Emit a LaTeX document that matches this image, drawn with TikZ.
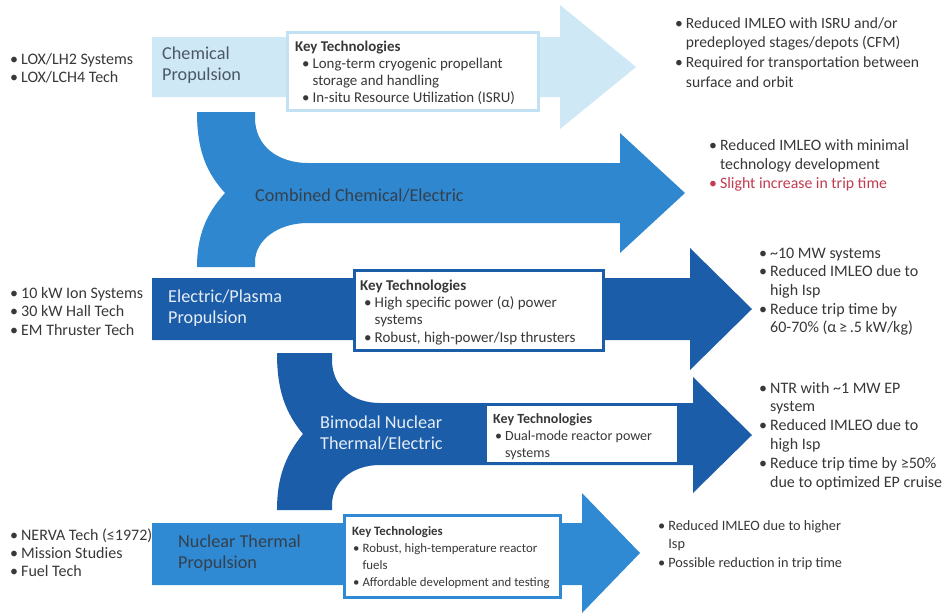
\documentclass[tikz,border=0pt]{standalone}
\usepackage{fontspec}
\setmainfont{Carlito}
\definecolor{chemc}{HTML}{CFE8F6}
\definecolor{chemb}{HTML}{C2E1F3}
\definecolor{combc}{HTML}{2F87D0}
\definecolor{darkc}{HTML}{1B5DA9}
\definecolor{nucc}{HTML}{3089D3}
\definecolor{txt}{HTML}{383838}
\definecolor{redt}{HTML}{C23B50}
\definecolor{chemlbl}{HTML}{4B5866}
\definecolor{darklbl}{HTML}{34404C}
\definecolor{lightlbl}{HTML}{E6EDF5}
\newcommand{\bu}{\textbullet}
\newcommand{\blist}[1]{\begin{tabular}[t]{@{}l@{\hspace{3pt}}l@{}}#1\end{tabular}}
\newcommand{\kblist}[2]{\begin{tabular}[t]{@{\hspace{#1pt}}l@{\hspace{3pt}}l@{}}#2\end{tabular}}
\newcommand{\llist}[1]{\begin{tabular}[t]{@{}l@{}}#1\end{tabular}}
\newcommand{\kt}{\multicolumn{2}{@{}l@{}}{\textbf{Key Technologies}}}
\newcommand{\fs}[2]{\fontsize{#1}{#2}\selectfont}
\tikzset{
  lst/.style={anchor=base west, inner sep=0pt, text=txt},
  lbl/.style={anchor=base west, inner sep=0pt, font=\fs{18.2}{21}},
  kbox/.style={draw, fill=white, line width=2.6pt, inner sep=0pt, anchor=north west}
}
\begin{document}
\begin{tikzpicture}[x=1pt,y=-1pt]
\useasboundingbox (0,0) rectangle (945,614);
\fill[white] (0,0) rectangle (945,614);

% arrows
\fill[chemc] (152,37) -- (560,37) -- (560,5) -- (636,67) -- (560,129) -- (560,97) -- (152,97) -- cycle;
\fill[combc] (197,112) -- (255,112) -- (255,118) .. controls (255,146) and (278,163) .. (308,163) -- (620,163) -- (620,133) -- (685,193) -- (620,253) -- (620,223) -- (308,223) .. controls (278,223) and (255,240) .. (255,262) -- (255,267) -- (197,267) .. controls (197,236) and (206,214) .. (225,193) .. controls (206,172) and (197,150) .. (197,112) -- cycle;
\fill[darkc] (152,278) -- (690,278) -- (690,248) -- (752,309) -- (690,370) -- (690,340) -- (152,340) -- cycle;
\fill[darkc] (277,353) -- (332,353) -- (332,360) .. controls (332,386) and (352,403) .. (380,403) -- (693,403) -- (693,377) -- (752,435) -- (693,493) -- (693,465) -- (380,465) .. controls (352,465) and (332,482) .. (332,505) -- (332,510) -- (277,510) .. controls (277,478) and (285,456) .. (303,434) .. controls (285,412) and (277,390) .. (277,353) -- cycle;
\fill[nucc] (152,523) -- (582,523) -- (582,493) -- (640,553) -- (582,613) -- (582,585) -- (152,585) -- cycle;

% key technology boxes
\node[kbox, draw=chemb, minimum width=251, minimum height=78] (kchem) at (286,31) {};
\node[kbox, draw=darkc, minimum width=249, minimum height=80] (kelec) at (353,269) {};
\node[kbox, draw=darkc, minimum width=193, minimum height=59] (kbim) at (484,403) {};
\node[kbox, draw=nucc, minimum width=216, minimum height=82] (knuc) at (343,514) {};

\node[lst, font=\fs{14.9}{17}] (tchem) at (295,51) {\kblist{7}{\kt\\ \bu & Long-term cryogenic propellant\\ & storage and handling\\ \bu & In-situ Resource Utilization (ISRU)}};
\node[lst, font=\fs{15}{17.4}] (telec) at (360,290) {\kblist{4}{\kt\\ \bu & High specific power (α) power\\ & systems\\ \bu & Robust, high-power/Isp thrusters}};
\node[lst, font=\fs{14}{17}] (tbim) at (493,423) {\kblist{2}{\kt\\ \bu & Dual-mode reactor power\\ & systems}};
\node[lst, font=\fs{12.8}{17.3}] (tnuc) at (352,535) {\kblist{1}{\kt\\ \bu & Robust, high-temperature reactor\\ & fuels\\ \bu & Affordable development and testing}};

% arrow labels
\node[lbl, text=chemlbl] (lchem) at (162,59) {\llist{Chemical\\Propulsion}};
\node[lbl, text=darklbl] (lcomb) at (255,201) {Combined Chemical/Electric};
\node[lbl, text=lightlbl] (lelec) at (168,302) {\llist{Electric/Plasma\\Propulsion}};
\node[lbl, text=lightlbl] (lbim) at (320,428) {\llist{Bimodal Nuclear\\Thermal/Electric}};
\node[lbl, text=darklbl] (lnuc) at (178,547) {\llist{Nuclear Thermal\\Propulsion}};

% left lists
\node[lst, font=\fs{16}{18.5}] (hchem) at (10,64) {\blist{\bu & LOX/LH2 Systems\\ \bu & LOX/LCH4 Tech}};
\node[lst, font=\fs{16}{18.5}] (helec) at (10,298) {\blist{\bu & 10 kW Ion Systems\\ \bu & 30 kW Hall Tech\\ \bu & EM Thruster Tech}};
\node[lst, font=\fs{16}{18.3}] (hnuc) at (10,540) {\blist{\bu & NERVA Tech (≤1972)\\ \bu & Mission Studies\\ \bu & Fuel Tech}};

% right lists
\node[lst, font=\fs{15.6}{19.8}] (rchem) at (675,28) {\blist{\bu & Reduced IMLEO with ISRU and/or\\ & predeployed stages/depots (CFM)\\ \bu & Required for transportation between\\ & surface and orbit}};
\node[lst, font=\fs{15.8}{19}] (rcomb) at (709,150) {\blist{\bu & Reduced IMLEO with minimal\\ & technology development\\ \textcolor{redt}{\bu} & \textcolor{redt}{Slight increase in trip time}}};
\node[lst, font=\fs{16}{18.7}] (relec) at (759,258) {\blist{\bu & \textasciitilde 10 MW systems\\ \bu & Reduced IMLEO due to\\ & high Isp\\ \bu & Reduce trip time by\\ & 60-70\% (α\,≥\,.5 kW/kg)}};
\node[lst, font=\fs{16}{18.8}] (rbim) at (759,393) {\blist{\bu & NTR with \textasciitilde 1 MW EP\\ & system\\ \bu & Reduced IMLEO due to\\ & high Isp\\ \bu & Reduce trip time by ≥50\%\\ & due to optimized EP cruise}};
\node[lst, font=\fs{14.3}{18.5}] (rnuc) at (658,530) {\blist{\bu & Reduced IMLEO due to higher\\ & Isp\\ \bu & Possible reduction in trip time}};
\end{tikzpicture}
\end{document}
